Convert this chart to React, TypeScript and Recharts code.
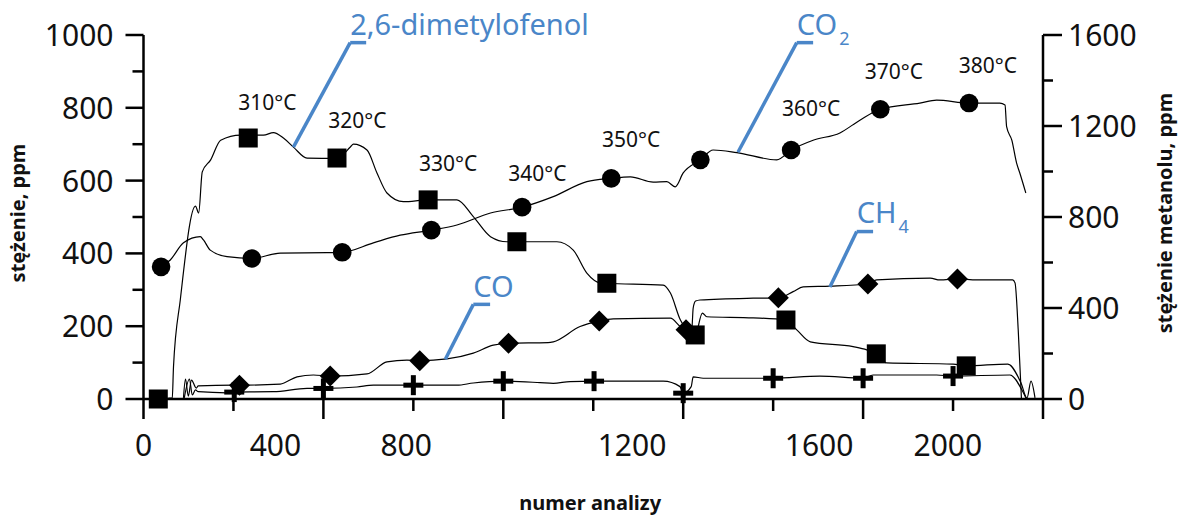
import { ComposedChart, Line, Scatter, XAxis, YAxis, ReferenceLine, ReferenceDot } from "recharts";

const BLUE = "#4a86c8";
const FONT = "'Noto Sans', sans-serif";

// numer analizy vs stężenie [ppm]
const dmpLine = [
  [37, 0], [72, 3], [75, 88], [92, 272], [130, 530], [138, 511], [147, 624], [168, 657], [193, 711],
  [243, 725], [300, 725], [325, 732], [350, 717], [375, 692], [409, 662], [484, 661], [518, 693],
  [525, 700], [559, 684], [584, 621], [609, 566], [650, 542], [712, 547], [784, 547], [825, 501],
  [868, 446], [909, 432], [934, 432], [1034, 432], [1075, 409], [1109, 346], [1143, 319], [1159, 318],
  [1300, 313], [1318, 291], [1343, 217], [1359, 190], [1380, 176], [1398, 236], [1409, 226],
  [1525, 223], [1607, 217], [1634, 190], [1668, 157], [1775, 144], [1809, 135], [1833, 124],
  [1859, 99], [2025, 96], [2058, 91], [2162, 96], [2195, 44], [2210, 3], [2220, 49], [2230, 3],
];
const dmpMarks = [[37, 0], [262, 717], [484, 662], [712, 547], [934, 432], [1159, 318], [1380, 176], [1607, 217], [1833, 124], [2058, 91]];

const co2Line = [
  [44, 363], [67, 382], [100, 429], [142, 446], [150, 437], [167, 409], [209, 391], [271, 386],
  [342, 401], [459, 402], [497, 403], [575, 429], [642, 450], [720, 464], [784, 478], [868, 511],
  [947, 527], [1025, 556], [1109, 597], [1170, 606], [1218, 610], [1275, 596], [1309, 597],
  [1330, 583], [1350, 621], [1393, 657], [1425, 684], [1484, 677], [1584, 657], [1620, 684],
  [1675, 711], [1742, 731], [1792, 766], [1843, 796], [1942, 813], [1984, 821], [2065, 813],
  [2142, 813], [2155, 808], [2159, 748], [2172, 711], [2184, 648], [2192, 621], [2207, 566],
];
const co2Marks = [[44, 363], [271, 386], [497, 403], [720, 464], [947, 527], [1170, 606], [1393, 657], [1620, 684], [1843, 796], [2065, 813]];

const ch4Line = [
  [100, 3], [105, 55], [112, 8], [120, 52], [132, 30], [137, 36], [225, 38], [240, 38], [342, 41],
  [384, 61], [425, 66], [467, 63], [559, 69], [609, 102], [659, 107], [691, 105], [759, 110],
  [825, 126], [875, 148], [913, 153], [1012, 155], [1025, 157], [1092, 199], [1140, 214],
  [1175, 220], [1318, 222], [1343, 199], [1357, 190], [1371, 183], [1375, 250], [1381, 269],
  [1392, 272], [1525, 277], [1588, 278], [1625, 295], [1650, 308], [1718, 310], [1812, 316],
  [1834, 327], [1968, 332], [1992, 327], [2036, 330], [2084, 327], [2174, 327], [2180, 319],
  [2188, 190], [2196, 3],
];
const ch4Marks = [[240, 38], [467, 63], [691, 105], [913, 153], [1140, 214], [1357, 190], [1588, 278], [1812, 316], [2036, 330]];

const coLine = [
  [102, 3], [115, 55], [122, 11], [130, 25], [137, 20], [209, 17], [227, 19], [325, 20], [409, 29],
  [450, 29], [534, 33], [575, 38], [675, 38], [784, 38], [825, 44], [900, 49], [992, 45],
  [1025, 43], [1067, 48], [1127, 49], [1300, 49], [1342, 34], [1350, 16], [1370, 34], [1375, 61],
  [1400, 57], [1575, 57], [1692, 63], [1800, 57], [1825, 66], [1984, 66], [2025, 63], [2167, 66],
  [2200, 19], [2207, 3],
];
const coMarks = [[227, 19], [450, 29], [675, 38], [900, 49], [1127, 49], [1350, 16], [1575, 57], [1800, 57], [2025, 63]];

const xTicks = [0, 225, 450, 675, 900, 1125, 1350, 1575, 1800, 2025, 2250];
const xLabelPos = [0, 330, 657, 1222, 1690, 2012];
const xLabels = ["0", "400", "800", "1200", "1600", "2000"];
const leftTicks = [0, 100, 200, 300, 400, 500, 600, 700, 800, 900, 1000];
const rightTicks = [0, 200, 400, 600, 800, 1000, 1200, 1400, 1600];
// corners of the secondary axes, so they get a domain of their own
const axisCorners = [[0, 0], [2250, 1600]];

const temps = [
  { t: "310°C", x: 310, y: 794 },
  { t: "320°C", x: 535, y: 744 },
  { t: "330°C", x: 762, y: 626 },
  { t: "340°C", x: 985, y: 599 },
  { t: "350°C", x: 1220, y: 692 },
  { t: "360°C", x: 1670, y: 778 },
  { t: "370°C", x: 1877, y: 879 },
  { t: "380°C", x: 2112, y: 895 },
];

const callouts = [
  { name: "2,6-dimetylofenol", sub: "", pts: [[375, 692], [517, 979], [557, 979]], tx: 517, ty: 1000 },
  { name: "CO", sub: "2", pts: [[1487, 678], [1634, 979], [1675, 979]], tx: 1634, ty: 1000 },
  { name: "CO", sub: "", pts: [[755, 109], [825, 260], [867, 260]], tx: 825, ty: 281 },
  { name: "CH", sub: "4", pts: [[1717, 308], [1784, 460], [1825, 460]], tx: 1784, ty: 483 },
];

const pts = (a: number[][]) => a.map(([x, y]) => ({ x, y }));

const XTick = (p: any) => {
  const major = Math.round(p.payload.value / 225) % 2 === 0;
  return <line x1={p.x} x2={p.x} y1={p.y} y2={p.y + (major ? 20 : 12)} stroke="#000" strokeWidth={2.5} />;
};

const LabTick = (p: any) => (
  <text x={p.x} y={p.y + 37} textAnchor="middle" fontSize={30} fontFamily={FONT} fill="#111">
    {xLabels[xLabelPos.indexOf(p.payload.value)]}
  </text>
);

const LeftTick = (p: any) => {
  const major = p.payload.value % 200 === 0;
  return (
    <g>
      <line x1={p.x - (major ? 18 : 11)} x2={p.x} y1={p.y} y2={p.y} stroke="#000" strokeWidth={2.5} />
      {major && (
        <text x={p.x - 30} y={p.y + 11} textAnchor="end" fontSize={30} fontFamily={FONT} fill="#111">
          {p.payload.value}
        </text>
      )}
    </g>
  );
};

const RightTick = (p: any) => {
  const major = p.payload.value % 400 === 0;
  return (
    <g>
      <line x1={p.x} x2={p.x + (major ? 19 : 10)} y1={p.y} y2={p.y} stroke="#000" strokeWidth={2.5} />
      {major && (
        <text x={p.x + 25} y={p.y + 11} textAnchor="start" fontSize={30} fontFamily={FONT} fill="#111">
          {p.payload.value}
        </text>
      )}
    </g>
  );
};

const square = (p: any) => <rect x={p.cx - 9.5} y={p.cy - 9.5} width={19} height={19} fill="#000" />;
const circle = (p: any) => <circle cx={p.cx} cy={p.cy} r={9.3} fill="#000" />;
const diamond = (p: any) => (
  <polygon points={`${p.cx},${p.cy - 10.5} ${p.cx + 10.5},${p.cy} ${p.cx},${p.cy + 10.5} ${p.cx - 10.5},${p.cy}`} fill="#000" />
);
const plus = (p: any) => (
  <g fill="#000">
    <rect x={p.cx - 10} y={p.cy - 2.5} width={20} height={5} />
    <rect x={p.cx - 2.5} y={p.cy - 10} width={5} height={20} />
  </g>
);
const nothing = () => <g />;

const series = [
  { line: dmpLine, marks: dmpMarks, shape: square },
  { line: co2Line, marks: co2Marks, shape: circle },
  { line: ch4Line, marks: ch4Marks, shape: diamond },
  { line: coLine, marks: coMarks, shape: plus },
];

export default function App() {
  return (
    <div style={{ position: "absolute", left: 0, top: 0, fontFamily: FONT }}>
      <ComposedChart width={1179} height={516} margin={{ top: 35, right: 0, bottom: 0, left: 0 }}>
        <XAxis
          type="number"
          dataKey="x"
          domain={[0, 2250]}
          ticks={xTicks}
          interval={0}
          height={20}
          tickLine={false}
          tickSize={0}
          tickMargin={0}
          axisLine={{ stroke: "#000", strokeWidth: 2.5 }}
          tick={XTick}
        />
        <XAxis
          xAxisId="lab"
          type="number"
          dataKey="x"
          domain={[0, 2250]}
          ticks={xLabelPos}
          interval={0}
          height={97}
          axisLine={false}
          tickLine={false}
          tickSize={0}
          tickMargin={0}
          tick={LabTick}
          label={{
            content: (p: any) => (
              <text x={p.viewBox.x + p.viewBox.width / 2 - 3} y={p.viewBox.y + 91} textAnchor="middle" fontSize={20} fontWeight="bold" fontFamily={FONT} fill="#111">
                numer analizy
              </text>
            ),
          }}
        />
        <YAxis
          yAxisId="left"
          type="number"
          dataKey="y"
          domain={[0, 1000]}
          ticks={leftTicks}
          interval={0}
          width={143.5}
          tickLine={false}
          tickSize={0}
          tickMargin={0}
          axisLine={{ stroke: "#000", strokeWidth: 2.5 }}
          tick={LeftTick}
          label={{
            content: (p: any) => {
              const cx = p.viewBox.x + 24.5;
              const cy = p.viewBox.y + p.viewBox.height / 2 - 4;
              return (
                <text x={cx} y={cy} transform={`rotate(-90 ${cx} ${cy})`} textAnchor="middle" fontSize={20} fontWeight="bold" fontFamily={FONT} fill="#111">
                  stężenie, ppm
                </text>
              );
            },
          }}
        />
        <YAxis
          yAxisId="right"
          orientation="right"
          type="number"
          dataKey="y"
          domain={[0, 1600]}
          ticks={rightTicks}
          interval={0}
          width={136}
          tickLine={false}
          tickSize={0}
          tickMargin={0}
          axisLine={{ stroke: "#000", strokeWidth: 2.5 }}
          tick={RightTick}
          label={{
            content: (p: any) => {
              const cx = p.viewBox.x + 129;
              const cy = p.viewBox.y + p.viewBox.height / 2 - 4;
              return (
                <text x={cx} y={cy} transform={`rotate(-90 ${cx} ${cy})`} textAnchor="middle" fontSize={20} fontWeight="bold" fontFamily={FONT} fill="#111">
                  stężenie metanolu, ppm
                </text>
              );
            },
          }}
        />

        <Scatter xAxisId="lab" yAxisId="right" data={pts(axisCorners)} dataKey="y" shape={nothing} isAnimationActive={false} />

        {series.map((s, i) => (
          <Line
            key={"l" + i}
            yAxisId="left"
            data={pts(s.line)}
            dataKey="y"
            type="monotone"
            stroke="#000"
            strokeWidth={1.2}
            dot={false}
            activeDot={false}
            isAnimationActive={false}
          />
        ))}
        {series.map((s, i) => (
          <Scatter key={"s" + i} yAxisId="left" data={pts(s.marks)} dataKey="y" shape={s.shape} isAnimationActive={false} />
        ))}

        {callouts.map((c, i) =>
          c.pts.slice(1).map((q, j) => (
            <ReferenceLine
              key={`c${i}-${j}`}
              yAxisId="left"
              segment={[{ x: c.pts[j][0], y: c.pts[j][1] }, { x: q[0], y: q[1] }]}
              stroke={BLUE}
              strokeWidth={3.5}
              ifOverflow="visible"
            />
          ))
        )}
        {callouts.map((c, i) => (
          <ReferenceDot
            key={"t" + i}
            yAxisId="left"
            x={c.tx}
            y={c.ty}
            r={0}
            fill="none"
            stroke="none"
            ifOverflow="visible"
            label={{
              content: (p: any) => (
                <text x={p.viewBox.x} y={p.viewBox.y} fontSize={29} fontFamily={FONT} fill={BLUE}>
                  {c.name}
                  {c.sub && (
                    <tspan dx={2} dy={10} fontSize={18}>
                      {c.sub}
                    </tspan>
                  )}
                </text>
              ),
            }}
          />
        ))}
        {temps.map((t, i) => (
          <ReferenceDot
            key={"d" + i}
            yAxisId="left"
            x={t.x}
            y={t.y}
            r={0}
            fill="none"
            stroke="none"
            ifOverflow="visible"
            label={{
              content: (p: any) => (
                <text x={p.viewBox.x} y={p.viewBox.y} textAnchor="middle" fontSize={21} fontFamily={FONT} fill="#111">
                  {t.t}
                </text>
              ),
            }}
          />
        ))}
      </ComposedChart>
    </div>
  );
}
